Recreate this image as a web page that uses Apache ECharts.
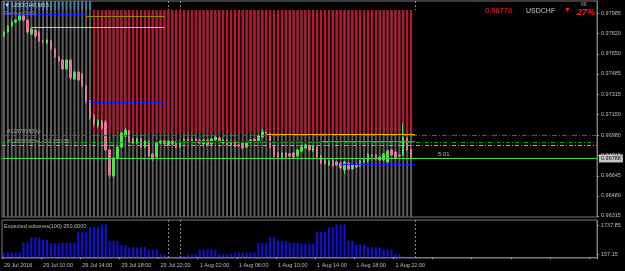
<!DOCTYPE html>
<html>
<head>
<meta charset="utf-8">
<script src="https://cdn.jsdelivr.net/npm/echarts@6/dist/echarts.min.js"></script>
<style>
  html, body { margin: 0; padding: 0; background: #000; }
  #chart { width: 625px; height: 271px; }
</style>
</head>
<body>
<div id="chart"></div>
<script>
// time labels, one every 10 bar slots
const timeLabels = [
  "29 Jul 2016", "29 Jul 10:00", "29 Jul 14:00", "29 Jul 18:00", "29 Jul 22:00",
  "1 Aug 02:00", "1 Aug 06:00", "1 Aug 10:00", "1 Aug 14:00", "1 Aug 18:00", "1 Aug 22:00"
];
const slotCount = 152;

// [open, close, low, high]
const candles = [
  [0.97798,0.97831,0.97790,0.97839],[0.97831,0.97881,0.97823,0.97889],[0.97881,0.97914,0.97872,0.97922],
  [0.97914,0.97930,0.97905,0.97938],[0.97930,0.97963,0.97922,0.97980],[0.97963,0.97930,0.97914,0.97971],
  [0.97930,0.97831,0.97815,0.97938],[0.97815,0.97856,0.97806,0.97864],[0.97848,0.97798,0.97782,0.97856],
  [0.97831,0.97757,0.97749,0.97839],[0.97757,0.97755,0.97740,0.97765],[0.97740,0.97765,0.97732,0.97773],
  [0.97757,0.97691,0.97683,0.97765],[0.97691,0.97625,0.97617,0.97699],[0.97625,0.97592,0.97584,0.97633],
  [0.97600,0.97526,0.97518,0.97608],[0.97526,0.97600,0.97518,0.97608],[0.97600,0.97452,0.97435,0.97608],
  [0.97443,0.97501,0.97435,0.97509],[0.97501,0.97435,0.97427,0.97509],[0.97485,0.97386,0.97377,0.97493],
  [0.97386,0.97262,0.97245,0.97394],[0.97262,0.97122,0.97105,0.97270],[0.97138,0.97072,0.97047,0.97155],
  [0.97056,0.97105,0.97039,0.97113],[0.97097,0.97039,0.97023,0.97105],[0.97089,0.96858,0.96849,0.97105],
  [0.96858,0.96651,0.96627,0.96866],[0.96643,0.96792,0.96627,0.96800],[0.96792,0.96882,0.96783,0.96891],
  [0.96882,0.96998,0.96874,0.97006],[0.96973,0.97023,0.96965,0.97039],[0.97014,0.96924,0.96915,0.97023],
  [0.96948,0.96915,0.96907,0.96957],[0.96915,0.96948,0.96907,0.96957],[0.96948,0.96882,0.96874,0.96957],
  [0.96882,0.96932,0.96874,0.96940],[0.96932,0.96808,0.96800,0.96940],[0.96825,0.96783,0.96767,0.96833],
  [0.96800,0.96915,0.96792,0.96924],[0.96915,0.96932,0.96907,0.96940],[0.96932,0.96907,0.96899,0.96940],
  [0.96899,0.96932,0.96891,0.96940],[0.96932,0.96907,0.96899,0.96940],[0.96924,0.96882,0.96874,0.96932],
  [0.96882,0.96932,0.96874,0.96940],[0.96932,0.96948,0.96924,0.96957],[0.96948,0.96924,0.96915,0.96957],
  [0.96924,0.96948,0.96915,0.96957],[0.96948,0.96932,0.96924,0.96957],[0.96940,0.96915,0.96907,0.96948],
  [0.96907,0.96940,0.96899,0.96948],[0.96940,0.96899,0.96891,0.96948],[0.96907,0.96948,0.96899,0.96957],
  [0.96940,0.96965,0.96932,0.96973],[0.96957,0.96924,0.96915,0.96965],[0.96915,0.96940,0.96907,0.96948],
  [0.96940,0.96899,0.96891,0.96948],[0.96899,0.96932,0.96891,0.96940],[0.96932,0.96891,0.96882,0.96940],
  [0.96899,0.96897,0.96882,0.96907],[0.96915,0.96874,0.96866,0.96924],[0.96882,0.96924,0.96874,0.96932],
  [0.96924,0.96940,0.96915,0.96948],[0.96948,0.96924,0.96915,0.96957],[0.96932,0.96973,0.96924,0.96981],
  [0.96965,0.97006,0.96957,0.97031],[0.97006,0.96998,0.96990,0.97014],[0.96990,0.96882,0.96874,0.96998],
  [0.96891,0.96808,0.96800,0.96899],[0.96833,0.96800,0.96792,0.96841],[0.96800,0.96833,0.96792,0.96841],
  [0.96833,0.96800,0.96792,0.96841],[0.96825,0.96808,0.96800,0.96833],[0.96833,0.96800,0.96783,0.96841],
  [0.96808,0.96858,0.96800,0.96866],[0.96849,0.96882,0.96841,0.96891],[0.96874,0.96899,0.96866,0.96907],
  [0.96891,0.96858,0.96849,0.96899],[0.96849,0.96891,0.96841,0.96899],[0.96882,0.96800,0.96792,0.96891],
  [0.96808,0.96750,0.96742,0.96816],[0.96775,0.96742,0.96734,0.96783],[0.96734,0.96767,0.96726,0.96775],
  [0.96775,0.96726,0.96717,0.96783],[0.96759,0.96734,0.96726,0.96767],[0.96750,0.96709,0.96701,0.96759],
  [0.96693,0.96759,0.96660,0.96767],[0.96750,0.96701,0.96693,0.96759],[0.96701,0.96734,0.96693,0.96742],
  [0.96742,0.96717,0.96709,0.96750],[0.96726,0.96767,0.96717,0.96775],[0.96759,0.96775,0.96750,0.96783],
  [0.96767,0.96825,0.96759,0.96833],[0.96816,0.96808,0.96800,0.96825],[0.96816,0.96783,0.96775,0.96825],
  [0.96800,0.96775,0.96767,0.96808],[0.96775,0.96825,0.96767,0.96833],[0.96759,0.96849,0.96750,0.96858],
  [0.96858,0.96816,0.96808,0.96866],[0.96841,0.96792,0.96783,0.96849],[0.96816,0.96808,0.96800,0.96825],
  [0.96816,0.96957,0.96808,0.97080],[0.96957,0.96858,0.96849,0.96965],[0.96858,0.96788,0.96783,0.96866]
];

const volumes = [
  240,250,260,260,260, 780,780, 1090,1090,1090, 925,925, 760,760,760, 790,790,790,790,
  1380,1380,1380, 1650,1650,1650, 1780,1780, 890,890,890, 650,650, 545,545,545,545,545,
  420,420,420, 165,165, 30,20,40, 70,70, 150,150,150, 420,420,420,420,420, 165,165,165,165,
  255,255,255,255,255,255, 780,780,780, 1090,1090, 890,890,890, 780,780,780, 745,745,745,745,
  1380,1380,1380, 1635,1635, 1780,1780,1780, 890,890, 690,690,690, 545,545,545,545,
  420,420,420, 165,165, 40,30,40
];

const priceTicks = [0.96315, 0.96480, 0.96645, 0.96815, 0.96980, 0.97150, 0.97315, 0.97485, 0.97650, 0.97820, 0.97985];
const volumeTicks = [157.15, 1737.85];

// histogram bands behind the candles
const stripeTop = 0.98013;
const redStart = 23;
const redLow = 0.97000;
const axisTop = 0.98087;
const axisBottom = 0.96305;

// price levels
const redLevel = 0.96977;
const greenLevelDark = 0.96920;
const greenLevelLight = 0.96895;
const bidPrice = 0.96788;
const lastTick = "0.96778";
// [from slot, to slot, price]
const blueTop = [0, 21, 0.97980];
const oliveTop = [21, 41, 0.97963];
const yellowTop = [7, 41, 0.97870];
const blueMid = [22, 41, 0.97254];
const orangeLow = [67, 105, 0.96987];
const blueLow = [44, 81, 0.96928];
const oliveLow = [81, 105, 0.96928];
const blueBottom = [86, 105, 0.96744];
const separators = [42, 45, 105];

const font = "Liberation Sans";
const slots = Array.from({ length: slotCount }, (_, i) => (i % 10 === 0 && timeLabels[i / 10]) || "");

const segLine = (s, color, type) => [
  { coord: [s[0], s[2]], lineStyle: { color, type, width: 1 } },
  { coord: [s[1], s[2]] },
];
const fullLine = (price, color, type) => [
  { coord: [0, price], x: 2, lineStyle: { color, type, width: 1, opacity: 1 } },
  { coord: [slotCount - 1, price], x: 597 },
];

const chart = echarts.init(document.getElementById("chart"));
chart.setOption({
  animation: false,
  backgroundColor: "#000",
  textStyle: { fontFamily: font },
  grid: [
    { left: 2, right: 28, top: 1, bottom: 54, show: true, borderColor: "#7a7a7a", borderWidth: 1, backgroundColor: "transparent" },
    { left: 2, right: 28, top: 220, bottom: 13, show: true, borderColor: "#7a7a7a", borderWidth: 1, backgroundColor: "transparent" },
  ],
  xAxis: [
    {
      gridIndex: 0, type: "category", data: slots, boundaryGap: true,
      axisLine: { show: false }, axisTick: { show: false }, axisLabel: { show: false }, splitLine: { show: false },
    },
    {
      gridIndex: 1, type: "category", data: slots, boundaryGap: true,
      axisLine: { show: true, lineStyle: { color: "#7a7a7a" } },
      axisTick: { show: true, interval: 9, length: 2, lineStyle: { color: "#9a9a9a" } },
      axisLabel: { show: true, interval: 9, align: "left", color: "#bdbdbd", fontSize: 5.5, margin: 4, fontFamily: font },
      splitLine: { show: false },
    },
  ],
  yAxis: [
    {
      gridIndex: 0, type: "value", position: "right", min: axisBottom, max: axisTop, scale: true,
      axisLine: { show: true, lineStyle: { color: "#7a7a7a" } },
      axisTick: { show: true, length: 2, customValues: priceTicks, lineStyle: { color: "#9a9a9a" } },
      axisLabel: { customValues: priceTicks, formatter: (v) => v.toFixed(5), color: "#bdbdbd", fontSize: 5.5, margin: 4, fontFamily: font },
      splitLine: { show: false },
    },
    {
      gridIndex: 1, type: "value", position: "right", min: -45, max: 2027,
      axisLine: { show: true, lineStyle: { color: "#7a7a7a" } },
      axisTick: { show: true, length: 2, customValues: volumeTicks, lineStyle: { color: "#9a9a9a" } },
      axisLabel: { customValues: volumeTicks, formatter: (v) => v.toFixed(2), color: "#bdbdbd", fontSize: 5.5, margin: 4, fontFamily: font },
      splitLine: { show: false },
    },
  ],
  series: [
    {
      name: "stripes", type: "bar", xAxisIndex: 0, yAxisIndex: 0, z: 1,
      barWidth: 2, barGap: "-100%",
      data: candles.map(() => stripeTop),
      itemStyle: { color: "#5e5e5e" },
      markLine: {
        silent: true, symbol: ["none", "none"], label: { show: false },
        lineStyle: { color: "#8a8a8a", type: [2, 2], width: 1 },
        data: separators.map((s) => [{ coord: [s, axisTop] }, { coord: [s, stripeTop] }]),
      },
    },
    {
      name: "base", type: "bar", stack: "top", xAxisIndex: 0, yAxisIndex: 0, z: 2,
      barWidth: 2, barGap: "-100%",
      data: candles.map((_, i) => (i < redStart ? stripeTop : redLow)),
      itemStyle: { color: "rgba(0,0,0,0)" },
    },
    {
      name: "red", type: "bar", stack: "top", xAxisIndex: 0, yAxisIndex: 0, z: 2,
      barWidth: 2, barGap: "-100%",
      data: candles.map((_, i) => (i < redStart ? "-" : stripeTop - redLow)),
      itemStyle: { color: "#c8102e" },
    },
    {
      name: "blue", type: "bar", stack: "top", xAxisIndex: 0, yAxisIndex: 0, z: 2,
      barWidth: 2, barGap: "-100%",
      data: candles.map((_, i) => (i < redStart ? axisTop - stripeTop : "-")),
      itemStyle: { color: "#4a7fae" },
    },
    {
      name: "USDCHF", type: "candlestick", xAxisIndex: 0, yAxisIndex: 0, z: 3,
      barWidth: 2,
      data: candles,
      itemStyle: {
        color: "#46e646", color0: "#e27a9a",
        borderColor: "#46e646", borderColor0: "#e27a9a", borderColorDoji: "#c8c8c8", borderWidth: 1,
      },
      markLine: {
        silent: true, symbol: ["none", "none"], label: { show: false }, z: 4,
        emphasis: { disabled: true },
        data: [
          fullLine(redLevel, "#ff1010", [5, 2, 1, 2]),
          fullLine(greenLevelDark, "#14a814", [4, 2, 1, 2]),
          fullLine(greenLevelLight, "#3cf03c", [4, 2, 1, 2]),
          segLine(blueTop, "#1a1aff", "solid"),
          segLine(oliveTop, "#8c8c00", "solid"),
          segLine(yellowTop, "#f2c830", "solid"),
          segLine(blueMid, "#1a1aff", "solid"),
          segLine(orangeLow, "#ffb000", "solid"),
          segLine(blueLow, "#1a1aff", "solid"),
          segLine(oliveLow, "#8c8c00", "solid"),
          segLine(blueBottom, "#1a1aff", "solid"),
          [
            {
              coord: [0, bidPrice], x: 2, lineStyle: { color: "#3ce03c", type: "solid", width: 1 },
              label: {
                show: true, position: "end", formatter: bidPrice.toFixed(5), distance: 2,
                backgroundColor: "#c4c4c4", color: "#111", fontSize: 5.5, padding: [1, 2], fontFamily: font,
              },
            },
            { coord: [slotCount - 1, bidPrice], x: 597 },
          ],
        ],
      },
    },
    {
      name: "Expected volumes", type: "bar", xAxisIndex: 1, yAxisIndex: 1, z: 2,
      barWidth: 2,
      data: volumes,
      itemStyle: { color: "#1010e0" },
      markLine: {
        silent: true, symbol: ["none", "none"], label: { show: false },
        lineStyle: { color: "#8a8a8a", type: [2, 2], width: 1 },
        data: separators.map((s) => ({ xAxis: s })),
      },
    },
  ],
  graphic: [
    { type: "text", left: 4, top: 2, z: 10, style: { text: "\u25BC USDCHF,M15", fill: "#c8c8c8", font: `6px ${font}` } },
    { type: "text", left: 4, top: 10, z: 10, style: { text: "Renko(0)(0)", fill: "#8a8a8a", font: `6px ${font}` } },
    { type: "text", left: 485, top: 7, z: 10, style: { text: lastTick, fill: "#ff2a2a", font: `7.5px ${font}` } },
    { type: "text", left: 526, top: 8, z: 10, style: { text: "USDCHF", fill: "#c8c8c8", font: `7px ${font}` } },
    { type: "text", left: 564, top: 7, z: 10, style: { text: "\u25BC", fill: "#ff2020", font: `7px ${font}` } },
    { type: "text", left: 577, top: 8, z: 10, style: { text: "27%", fill: "#ff2020", font: `italic bold 9px ${font}` } },
    { type: "text", left: 581, top: 2, z: 10, style: { text: "88", fill: "#9a9a9a", font: `5px ${font}` } },
    { type: "text", left: 7, top: 128, z: 10, style: { text: "#12878983 tp", fill: "#9a9a9a", font: `5.5px ${font}` } },
    { type: "text", left: 7, top: 138, z: 10, style: { text: "#12878983 sl -1.1 150.35", fill: "#9a9a9a", font: `5.5px ${font}` } },
    { type: "text", left: 438, top: 151, z: 10, style: { text: "5:01", fill: "#a8c8a8", font: `6px ${font}` } },
    { type: "text", left: 4, top: 223, z: 10, style: { text: "Expected volumes(100) 250.0000", fill: "#bdbdbd", font: `5.5px ${font}` } },
  ],
});
</script>
</body>
</html>
